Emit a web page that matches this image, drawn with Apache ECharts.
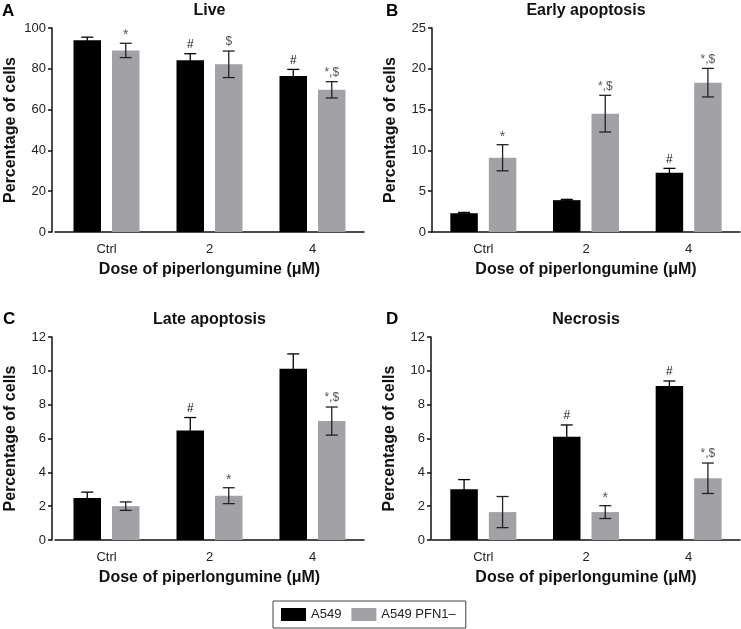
<!DOCTYPE html>
<html><head><meta charset="utf-8">
<script src="https://cdn.jsdelivr.net/npm/echarts@6/dist/echarts.min.js"></script>
<style>html,body{margin:0;padding:0;background:#fff}#c{width:741px;height:629px}</style>
</head><body><div id="c"></div>
<script>
const categories = ['Ctrl', '2', '4'];
const seriesNames = ['A549', 'A549 PFN1\u2013'];
const panelTitles = ['Live', 'Early apoptosis', 'Late apoptosis', 'Necrosis'];
const panelLetters = ['A', 'B', 'C', 'D'];
const yMax = [100, 25, 12, 12];
const yInterval = [20, 5, 2, 2];

const liveA549 = [94, 84.2, 76.5];
const liveA549Err = [1.5, 3.2, 3.2];
const livePFN = [89, 82.2, 69.7];
const livePFNErr = [3.5, 6.5, 4];

const earlyA549 = [2.3, 3.9, 7.25];
const earlyA549Err = [0.1, 0.1, 0.55];
const earlyPFN = [9.1, 14.5, 18.3];
const earlyPFNErr = [1.6, 2.25, 1.75];

const lateA549 = [2.48, 6.47, 10.12];
const lateA549Err = [0.35, 0.77, 0.88];
const latePFN = [2.0, 2.62, 7.03];
const latePFNErr = [0.25, 0.47, 0.83];

const necA549 = [3.0, 6.1, 9.1];
const necA549Err = [0.57, 0.7, 0.3];
const necPFN = [1.65, 1.65, 3.65];
const necPFNErr = [0.92, 0.38, 0.9];

const liveA549Marks = ['', '#', '#'];
const livePFNMarks = ['*', '$', '*,$'];
const earlyA549Marks = ['', '', '#'];
const earlyPFNMarks = ['*', '*,$', '*,$'];
const lateA549Marks = ['', '#', ''];
const latePFNMarks = ['', '*', '*,$'];
const necA549Marks = ['', '#', '#'];
const necPFNMarks = ['', '*', '*,$'];

const panels = [
  {a: liveA549, ae: liveA549Err, am: liveA549Marks, p: livePFN, pe: livePFNErr, pm: livePFNMarks},
  {a: earlyA549, ae: earlyA549Err, am: earlyA549Marks, p: earlyPFN, pe: earlyPFNErr, pm: earlyPFNMarks},
  {a: lateA549, ae: lateA549Err, am: lateA549Marks, p: latePFN, pe: latePFNErr, pm: latePFNMarks},
  {a: necA549, ae: necA549Err, am: necA549Marks, p: necPFN, pe: necPFNErr, pm: necPFNMarks}
];

const FONT = '"Liberation Sans", Arial, Helvetica, sans-serif';
const BLACK = '#000000';
const GRAY = '#a2a2a6';
const BAR_W = 27.5;
const OFFSET = 19.25;

const grids = [
  {left: 55, top: 28, width: 309, height: 204},
  {left: 432, top: 28, width: 308, height: 204},
  {left: 55, top: 337, width: 309, height: 203},
  {left: 432, top: 337, width: 308, height: 203}
];
const yOffsets = [3, 0, 3, 1];

function errRender(marks, side, lineColor, markColor) {
  return function (params, api) {
    const i = api.value(0), v = api.value(1), e = api.value(2);
    const c = api.coord([i, v]);
    const t = api.coord([i, v + e]);
    const b = api.coord([i, v - e]);
    const x = c[0] + side * OFFSET;
    const st = {stroke: lineColor, lineWidth: 1.3};
    const children = [
      {type: 'line', shape: {x1: x, y1: t[1], x2: x, y2: b[1]}, style: st},
      {type: 'line', shape: {x1: x - 6, y1: t[1], x2: x + 6, y2: t[1]}, style: st},
      {type: 'line', shape: {x1: x - 6, y1: b[1], x2: x + 6, y2: b[1]}, style: st}
    ];
    const m = marks[params.dataIndex];
    if (m) {
      const dy = m === '*' ? 1 : 3;
      children.push({type: 'text', style: {text: m, x: x, y: t[1] - dy, textAlign: 'center', textVerticalAlign: 'bottom',
        fill: markColor, font: (m === '*' ? '14px ' : '12px ') + FONT}});
    }
    return {type: 'group', children: children};
  };
}

const xAxis = [], yAxis = [], series = [], graphic = [];
panels.forEach((pn, k) => {
  xAxis.push({
    type: 'category', gridIndex: k, data: categories,
    axisLine: {lineStyle: {color: '#111', width: 1.5}},
    axisTick: {alignWithLabel: true, length: 4, lineStyle: {color: '#111', width: 1.5}},
    axisLabel: {color: '#222', fontSize: 13, fontFamily: FONT, margin: 11},
    name: 'Dose of piperlongumine (\u03bcM)', nameLocation: 'middle', nameGap: 30,
    nameTextStyle: {fontSize: 16, fontWeight: 'bold', color: '#111', fontFamily: FONT}
  });
  yAxis.push({
    type: 'value', gridIndex: k, min: 0, max: yMax[k], interval: yInterval[k], offset: yOffsets[k],
    splitLine: {show: false},
    axisLine: {show: true, lineStyle: {color: '#111', width: 1.5}},
    axisTick: {show: true, length: 4, lineStyle: {color: '#111', width: 1.5}},
    axisLabel: {color: '#222', fontSize: 13, fontFamily: FONT, margin: 6},
    name: 'Percentage of cells', nameLocation: 'middle', nameGap: 33,
    nameTextStyle: {fontSize: 16, fontWeight: 'bold', color: '#111', fontFamily: FONT}
  });
  series.push({
    name: seriesNames[0], type: 'bar', xAxisIndex: k, yAxisIndex: k, data: pn.a,
    barWidth: BAR_W, barGap: '40%', itemStyle: {color: BLACK}, z: 2
  });
  series.push({
    name: seriesNames[1], type: 'bar', xAxisIndex: k, yAxisIndex: k, data: pn.p,
    barWidth: BAR_W, barGap: '40%', itemStyle: {color: GRAY}, z: 2
  });
  series.push({
    type: 'custom', xAxisIndex: k, yAxisIndex: k, z: 3, silent: true,
    renderItem: errRender(pn.am, -1, '#000', '#111'),
    data: pn.a.map((v, i) => [i, v, pn.ae[i]])
  });
  series.push({
    type: 'custom', xAxisIndex: k, yAxisIndex: k, z: 3, silent: true,
    renderItem: errRender(pn.pm, 1, '#222', '#555'),
    data: pn.p.map((v, i) => [i, v, pn.pe[i]])
  });
  const g = grids[k];
  graphic.push({type: 'text', style: {text: panelTitles[k], x: g.left + g.width / 2, y: g.top - 17,
    textAlign: 'center', textVerticalAlign: 'middle', font: 'bold 16px ' + FONT, fill: '#111'}});
});
graphic.push({type: 'text', style: {text: panelLetters[0], x: 2, y: 11, textVerticalAlign: 'middle', font: 'bold 17px ' + FONT, fill: '#000'}});
graphic.push({type: 'text', style: {text: panelLetters[1], x: 386, y: 11, textVerticalAlign: 'middle', font: 'bold 17px ' + FONT, fill: '#000'}});
graphic.push({type: 'text', style: {text: panelLetters[2], x: 3, y: 319, textVerticalAlign: 'middle', font: 'bold 17px ' + FONT, fill: '#000'}});
graphic.push({type: 'text', style: {text: panelLetters[3], x: 386, y: 319, textVerticalAlign: 'middle', font: 'bold 17px ' + FONT, fill: '#000'}});

const chart = echarts.init(document.getElementById('c'), null, {renderer: 'canvas'});
chart.setOption({
  animation: false,
  backgroundColor: '#fff',
  grid: grids,
  xAxis: xAxis,
  yAxis: yAxis,
  series: series,
  graphic: graphic,
  legend: {
    data: seriesNames, left: 273, top: 601, orient: 'horizontal',
    icon: 'rect', itemWidth: 25, itemHeight: 13, itemGap: 10,
    padding: [7, 10, 7, 8], borderColor: '#444', borderWidth: 1,
    textStyle: {fontSize: 13, color: '#222', fontFamily: FONT}
  }
});
</script></body></html>
